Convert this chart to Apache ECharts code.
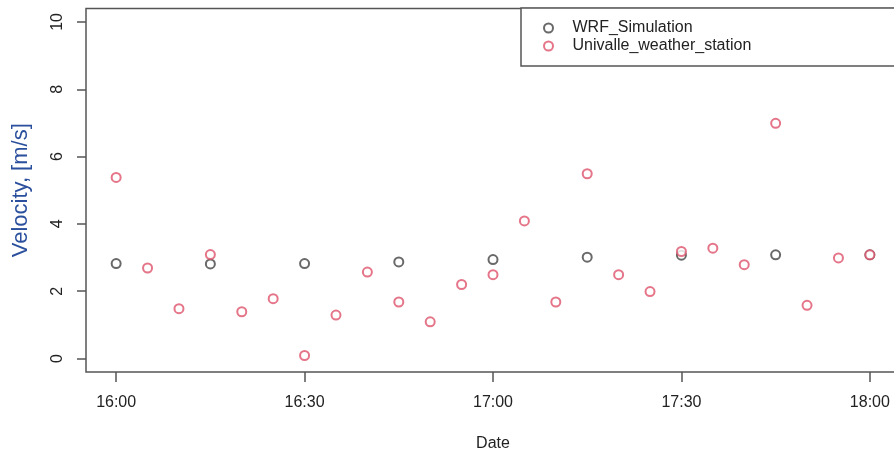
<!DOCTYPE html>
<html>
<head>
<meta charset="utf-8">
<script src="https://cdn.jsdelivr.net/npm/echarts@6/dist/echarts.min.js"></script>
<style>
html,body{margin:0;padding:0;background:#fff;}
#chart{width:894px;height:456px;}
</style>
</head>
<body>
<div id="chart"></div>
<script>
// ---- data ----
var wrfTimes = ['16:00','16:15','16:30','16:45','17:00','17:15','17:30','17:45','18:00'];
var wrfValues = [2.82, 2.81, 2.82, 2.87, 2.94, 3.01, 3.07, 3.08, 3.08];
var stationTimes = ['16:00','16:05','16:10','16:15','16:20','16:25','16:30','16:35','16:40','16:45','16:50','16:55',
                    '17:00','17:05','17:10','17:15','17:20','17:25','17:30','17:35','17:40','17:45','17:50','17:55','18:00'];
var stationValues = [5.38, 2.69, 1.48, 3.09, 1.39, 1.78, 0.09, 1.29, 2.57, 1.68, 1.09, 2.20,
                     2.49, 4.09, 1.68, 5.49, 2.49, 1.99, 3.18, 3.28, 2.79, 6.99, 1.58, 2.99, 3.08];
var xTickLabels = ['16:00','16:30','17:00','17:30','18:00'];
var yTicks = [0, 2, 4, 6, 8, 10];
var seriesNames = ['WRF_Simulation', 'Univalle_weather_station'];

// ---- helpers ----
var BASE = 16 * 60;
function toMin(t){ var p = t.split(':'); return (+p[0]) * 60 + (+p[1]) - BASE; }
function fmt(m){ var tot = Math.round(m) + BASE; var h = Math.floor(tot / 60), mm = tot % 60; return h + ':' + (mm < 10 ? '0' : '') + mm; }
function pairs(ts, vs){ return ts.map(function(t, i){ return [toMin(t), vs[i]]; }); }

var xTickVals = xTickLabels.map(toMin);
var xSpan = xTickVals[xTickVals.length - 1] - xTickVals[0];
var ySpan = yTicks[yTicks.length - 1] - yTicks[0];

var axisCol = '#555';
var font = 'Liberation Sans, Arial, Helvetica, sans-serif';

var chart = echarts.init(document.getElementById('chart'), null, {renderer: 'canvas'});
chart.setOption({
  animation: false,
  backgroundColor: '#fff',
  grid: {left: 86, top: 8.5, right: -6, bottom: 84, show: true, borderColor: axisCol, borderWidth: 1.5,
         backgroundColor: 'transparent', containLabel: false, outerBoundsMode: 'none'},
  xAxis: {
    type: 'value',
    min: xTickVals[0] - 0.04 * xSpan,
    max: xTickVals[xTickVals.length - 1] + 0.04 * xSpan,
    name: 'Date',
    nameLocation: 'middle',
    nameGap: 64,
    nameTextStyle: {fontFamily: font, fontSize: 16, color: '#222'},
    axisLine: {show: false, onZero: false},
    splitLine: {show: false},
    axisTick: {show: true, inside: false, length: 10, customValues: xTickVals, lineStyle: {color: axisCol, width: 1.5}},
    axisLabel: {show: true, customValues: xTickVals, margin: 23, fontFamily: font, fontSize: 16, color: '#222',
                formatter: function(v){ return fmt(v); }}
  },
  yAxis: {
    type: 'value',
    min: yTicks[0] - 0.04 * ySpan,
    max: yTicks[yTicks.length - 1] + 0.04 * ySpan,
    name: 'Velocity, [m/s]',
    nameLocation: 'middle',
    nameGap: 54,
    nameRotate: 90,
    nameTextStyle: {fontFamily: font, fontSize: 22, color: '#2a4f9c'},
    axisLine: {show: false, onZero: false},
    splitLine: {show: false},
    axisTick: {show: true, inside: false, length: 9, customValues: yTicks, lineStyle: {color: axisCol, width: 1.5}},
    axisLabel: {show: true, customValues: yTicks, rotate: 90, margin: 20, fontFamily: font, fontSize: 16, color: '#222'}
  },
  legend: {
    orient: 'vertical',
    left: 521, top: 8,
    data: seriesNames,
    backgroundColor: '#fff',
    borderColor: axisCol, borderWidth: 1.5, borderRadius: 0,
    padding: [12, 260, 12, 22],
    itemWidth: 38, itemHeight: 9, itemGap: 2,
    symbolKeepAspect: true,
    textStyle: {fontFamily: font, fontSize: 16, color: '#222', lineHeight: 16}
  },
  series: [
    {name: seriesNames[0], type: 'scatter', symbol: 'emptyCircle', symbolSize: 9,
     itemStyle: {color: '#444', borderColor: '#444', borderWidth: 1.5},
     data: pairs(wrfTimes, wrfValues), z: 2},
    {name: seriesNames[1], type: 'scatter', symbol: 'emptyCircle', symbolSize: 9,
     itemStyle: {color: '#DF536B', borderColor: '#DF536B', borderWidth: 1.5},
     data: pairs(stationTimes, stationValues), z: 3}
  ]
});
</script>
</body>
</html>
